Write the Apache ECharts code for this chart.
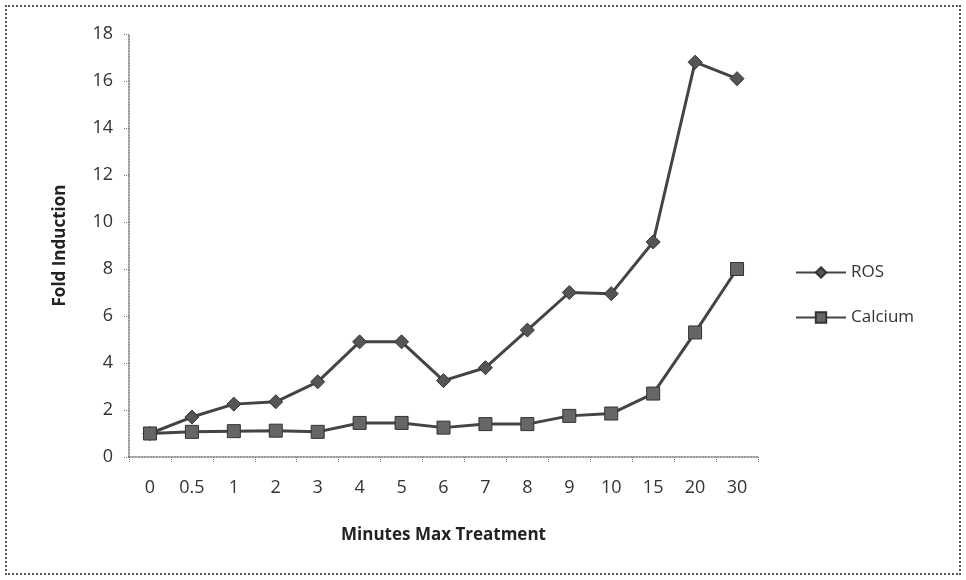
<!DOCTYPE html>
<html>
<head>
<meta charset="utf-8">
<script src="https://cdn.jsdelivr.net/npm/echarts@6/dist/echarts.min.js"></script>
<style>
html,body{margin:0;padding:0;background:#fff;}
#frame{position:absolute;left:5px;top:5px;width:956px;height:570px;border:2px dotted #555;box-sizing:border-box;}
#chart{position:absolute;left:0;top:0;width:966px;height:580px;}
</style>
</head>
<body>
<div id="frame"></div>
<div id="chart"></div>
<script>
const categories = ['0','0.5','1','2','3','4','5','6','7','8','9','10','15','20','30'];
const rosValues = [1.0, 1.7, 2.25, 2.35, 3.2, 4.9, 4.9, 3.25, 3.8, 5.4, 7.0, 6.95, 9.15, 16.8, 16.1];
const calciumValues = [1.0, 1.07, 1.1, 1.12, 1.07, 1.45, 1.45, 1.25, 1.4, 1.4, 1.75, 1.85, 2.7, 5.3, 8.0];
const yTicks = {min: 0, max: 18, interval: 2};

const chart = echarts.init(document.getElementById('chart'));
const font = '"Open Sans", "Liberation Sans", sans-serif';
chart.setOption({
  backgroundColor: 'transparent',
  animation: false,
  grid: {left: 129, right: 208, top: 34, bottom: 123, containLabel: false},
  legend: {
    orient: 'vertical',
    left: 790, top: 259,
    itemWidth: 50, itemHeight: 13,
    itemGap: 28,
    textStyle: {fontFamily: font, fontSize: 17, color: '#333'},
    data: ['ROS', 'Calcium']
  },
  xAxis: {
    type: 'category',
    data: categories,
    boundaryGap: true,
    name: 'Minutes Max Treatment',
    nameLocation: 'middle',
    nameGap: 70,
    nameTextStyle: {fontFamily: font, fontSize: 17, fontWeight: 'bold', color: '#222'},
    axisLine: {lineStyle: {color: '#777', type: 'dotted', width: 1.5}},
    axisTick: {show: true, alignWithLabel: false, length: 5, lineStyle: {color: '#777', type: 'dotted'}},
    axisLabel: {fontFamily: font, fontSize: 18, color: '#333', margin: 22}
  },
  yAxis: {
    type: 'value',
    min: yTicks.min, max: yTicks.max, interval: yTicks.interval,
    name: 'Fold Induction',
    nameLocation: 'middle',
    nameGap: 60,
    nameRotate: 90,
    nameTextStyle: {fontFamily: font, fontSize: 17, fontWeight: 'bold', color: '#222'},
    axisLine: {show: true, lineStyle: {color: '#777', type: 'dotted', width: 1.5}},
    axisTick: {show: true, length: 5, lineStyle: {color: '#777', type: 'dotted'}},
    splitLine: {show: false},
    axisLabel: {fontFamily: font, fontSize: 18, color: '#333', margin: 16}
  },
  series: [
    {
      name: 'ROS', type: 'line', data: rosValues,
      symbol: 'diamond', symbolSize: 14,
      lineStyle: {color: '#444', width: 3},
      itemStyle: {color: '#555', borderColor: '#333', borderWidth: 1}
    },
    {
      name: 'Calcium', type: 'line', data: calciumValues,
      symbol: 'rect', symbolSize: 13,
      lineStyle: {color: '#444', width: 3},
      itemStyle: {color: '#666', borderColor: '#333', borderWidth: 1}
    }
  ]
});
</script>
</body>
</html>
